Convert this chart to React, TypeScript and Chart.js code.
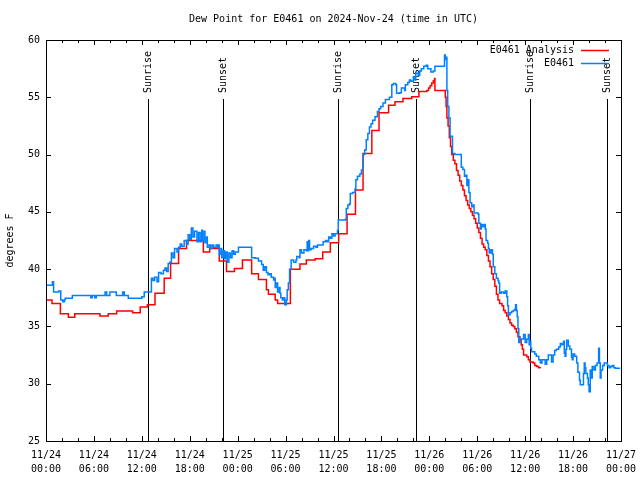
import { useEffect, useRef } from 'react';
import { Chart, registerables } from 'chart.js';

Chart.register(...registerables);

const FONT = '"DejaVu Sans Mono", "Liberation Mono", monospace';

const titleText = 'Dew Point for E0461 on 2024-Nov-24 (time in UTC)';
const yAxisTitle = 'degrees F';
const xTickDates = ['11/24', '11/24', '11/24', '11/24', '11/25', '11/25', '11/25', '11/25', '11/26', '11/26', '11/26', '11/26', '11/27'];
const xTickTimes = ['00:00', '06:00', '12:00', '18:00', '00:00', '06:00', '12:00', '18:00', '00:00', '06:00', '12:00', '18:00', '00:00'];
const yTicks = [25, 30, 35, 40, 45, 50, 55, 60];
const sunriseHours = [12.77, 36.6, 60.6];
const sunsetHours = [22.16, 46.3, 70.2];
const analysisName = 'E0461 Analysis';
const stationName = 'E0461';

// hours since 11/24 00:00 UTC, dew point (F)
const analysisPoints: [number, number][] = [
  [0, 37.3], [0.75, 37.0], [1.8, 36.1], [2.8, 35.8], [3.6, 36.1], [6.75, 35.9], [7.8, 36.1], [8.85, 36.35],
  [10.85, 36.2], [11.8, 36.7], [12.7, 36.9], [13.65, 37.9], [14.8, 39.2], [15.6, 40.5], [16.6, 41.8], [17.6, 42.5],
  [19.7, 41.5], [20.5, 41.8], [21.7, 40.7], [22.6, 39.8], [23.6, 40.05], [24.6, 40.8], [25.75, 39.6], [26.6, 39.1],
  [27.6, 38.2], [27.85, 37.8], [28.7, 37.3], [29.0, 37.0], [30.6, 40.0], [31.8, 40.45], [32.6, 40.8], [33.7, 40.9],
  [34.65, 41.5], [35.6, 42.3], [36.65, 43.1], [37.7, 44.8], [38.75, 46.9], [39.7, 50.1], [40.8, 52.1], [41.7, 53.65],
  [42.9, 54.3], [43.7, 54.6], [44.7, 54.9], [45.8, 55.05], [46.7, 55.5], [47.7, 55.6], [47.9, 55.8], [48.1, 56.0],
  [48.3, 56.25], [48.5, 56.45], [48.65, 56.65], [48.7, 55.6], [50.0, 55.0], [50.1, 54.2], [50.2, 53.2], [50.35, 52.5],
  [50.5, 51.5], [50.65, 50.7], [50.8, 50.0], [51.0, 49.5], [51.2, 49.2], [51.4, 48.6], [51.6, 48.2], [51.8, 47.7],
  [52.0, 47.3], [52.2, 46.9], [52.4, 46.4], [52.6, 46.0], [52.8, 45.6], [53.0, 45.3], [53.2, 45.0], [53.4, 44.7],
  [53.6, 44.4], [53.8, 44.0], [54.0, 43.6], [54.2, 43.2], [54.4, 42.7], [54.6, 42.2], [54.8, 41.9], [55.0, 41.7],
  [55.2, 41.2], [55.4, 40.7], [55.6, 40.2], [55.8, 39.6], [56.0, 39.1], [56.2, 38.5], [56.4, 37.8], [56.6, 37.3],
  [56.8, 37.0], [57.1, 36.8], [57.3, 36.4], [57.5, 36.2], [57.7, 35.9], [57.9, 35.6], [58.1, 35.3], [58.3, 35.1],
  [58.5, 35.0], [58.7, 34.8], [58.9, 34.5], [59.1, 34.1], [59.35, 33.8], [59.5, 33.4], [59.65, 33.0], [59.8, 32.5],
  [60.2, 32.35], [60.4, 32.1], [60.6, 31.9], [61.0, 31.8], [61.2, 31.6], [61.45, 31.5], [61.7, 31.4], [61.9, 31.35],
];

const stationPoints: [number, number][] = [
  [0, 38.6], [0.7, 38.6], [0.8, 38.9], [0.95, 38.0], [1.4, 38.0], [1.6, 38.1], [1.85, 37.3], [2.1, 37.15],
  [2.3, 37.3], [2.4, 37.45], [3.2, 37.45], [3.3, 37.7], [5.5, 37.7], [5.6, 37.5], [5.8, 37.7], [6.1, 37.5],
  [6.3, 37.7], [7.3, 37.7], [7.4, 38.0], [7.6, 37.7], [8.0, 38.0], [8.7, 38.0], [8.8, 37.7], [9.5, 37.7],
  [9.6, 38.0], [9.8, 37.7], [10.3, 37.45], [11.8, 37.45], [12.0, 37.6], [12.3, 38.0], [13.0, 38.0], [13.2, 39.2],
  [13.4, 39.0], [13.6, 39.3], [13.9, 38.9], [14.1, 39.7], [14.4, 39.6], [14.7, 39.9], [14.9, 40.1], [15.1, 39.8],
  [15.3, 40.5], [15.5, 40.6], [15.7, 41.4], [15.9, 41.0], [16.1, 41.8], [16.4, 41.5], [16.6, 41.9], [16.8, 42.2],
  [17.0, 42.0], [17.3, 42.5], [17.6, 42.2], [17.8, 43.0], [18.0, 42.6], [18.2, 43.6], [18.4, 42.8], [18.6, 43.3],
  [18.9, 42.4], [19.1, 43.2], [19.3, 42.4], [19.5, 43.4], [19.6, 42.5], [19.8, 43.3], [19.9, 42.3], [20.1, 42.8],
  [20.2, 41.9], [20.4, 42.1], [20.6, 41.8], [20.8, 42.1], [21.0, 41.9], [21.3, 42.1], [21.5, 41.9], [21.6, 42.1],
  [21.7, 41.3], [21.9, 41.8], [22.0, 41.0], [22.2, 41.6], [22.35, 40.9], [22.5, 41.5], [22.7, 40.6], [22.9, 41.4],
  [23.1, 41.0], [23.3, 41.6], [23.5, 41.3], [23.7, 41.5], [24.1, 41.9], [25.75, 41.0], [26.2, 40.95], [26.6, 40.7],
  [27.0, 40.4], [27.2, 39.9], [27.4, 40.2], [27.6, 39.7], [27.8, 39.5], [28.0, 39.6], [28.2, 39.3], [28.5, 39.05],
  [28.6, 39.2], [28.7, 38.4], [28.8, 38.8], [29.0, 38.0], [29.2, 38.4], [29.3, 37.9], [29.4, 37.5], [29.6, 37.3],
  [29.8, 37.5], [29.9, 36.9], [30.1, 37.3], [30.2, 38.2], [30.35, 38.8], [30.5, 40.0], [30.7, 40.8], [31.0, 40.6],
  [31.3, 40.8], [31.4, 41.1], [31.7, 41.0], [31.8, 41.7], [32.0, 41.4], [32.3, 41.7], [32.6, 41.6], [32.7, 42.4],
  [32.8, 41.6], [32.9, 42.5], [33.0, 41.7], [33.2, 41.8], [33.5, 42.0], [33.8, 41.9], [34.0, 42.1], [34.7, 42.4],
  [35.0, 42.5], [35.2, 42.4], [35.4, 42.8], [35.6, 42.7], [35.8, 43.1], [36.0, 42.9], [36.2, 43.1], [36.5, 43.4],
  [36.6, 44.3], [37.5, 44.35], [37.6, 45.3], [37.8, 45.6], [38.0, 45.7], [38.1, 46.6], [38.4, 46.7], [38.7, 47.0],
  [38.8, 47.8], [39.0, 48.1], [39.3, 48.3], [39.5, 48.65], [39.7, 50.0], [39.9, 50.4], [40.1, 51.3], [40.3, 51.85],
  [40.5, 52.4], [40.7, 52.7], [40.9, 53.0], [41.2, 53.3], [41.5, 53.75], [41.7, 54.0], [41.9, 54.2], [42.2, 54.5],
  [42.5, 54.8], [43.0, 55.0], [43.3, 56.1], [43.5, 56.2], [43.8, 56.1], [43.9, 55.35], [44.3, 55.4], [44.5, 55.8],
  [44.9, 55.6], [45.0, 56.1], [45.3, 56.3], [45.5, 56.5], [45.7, 56.4], [46.0, 56.8], [46.2, 56.5], [46.3, 57.1],
  [46.6, 56.9], [46.8, 57.3], [47.0, 57.5], [47.3, 57.7], [47.6, 57.8], [47.8, 57.5], [48.2, 57.2], [48.5, 57.3],
  [48.7, 57.7], [49.9, 58.7], [50.0, 58.3], [50.1, 58.5], [50.2, 55.6], [50.3, 54.2], [50.45, 53.2], [50.6, 51.6],
  [50.9, 50.1], [51.2, 50.0], [52.0, 48.9], [52.2, 48.7], [52.4, 48.1], [52.6, 48.2], [52.7, 47.3], [52.8, 47.8],
  [52.95, 46.7], [53.1, 45.8], [53.3, 45.45], [53.5, 45.6], [53.6, 44.9], [54.1, 44.8], [54.2, 44.0], [54.4, 43.5],
  [54.5, 43.9], [54.7, 43.7], [54.9, 43.9], [55.0, 43.5], [55.1, 42.5], [55.3, 42.25], [55.4, 41.8], [55.5, 41.4],
  [55.7, 41.7], [55.9, 41.3], [56.0, 40.2], [56.2, 39.6], [56.4, 39.2], [56.6, 39.0], [56.7, 38.8], [56.8, 37.9],
  [57.0, 38.0], [57.3, 37.9], [57.5, 38.1], [57.7, 37.6], [57.8, 36.8], [57.9, 36.0], [58.1, 36.2], [58.3, 36.3],
  [58.5, 36.4], [58.7, 36.5], [58.8, 36.9], [58.9, 36.4], [59.0, 35.85], [59.1, 34.8], [59.2, 33.6], [59.35, 33.9],
  [59.8, 34.3], [60.0, 33.6], [60.2, 33.9], [60.4, 34.3], [60.5, 33.4], [60.6, 33.7], [60.7, 33.1], [60.8, 32.8],
  [61.2, 32.6], [61.4, 32.4], [61.7, 32.1], [61.9, 31.8], [62.1, 32.1], [62.5, 31.7], [62.7, 32.1], [62.9, 32.5],
  [63.3, 31.9], [63.5, 32.5], [63.7, 32.9], [63.9, 33.0], [64.2, 33.2], [64.4, 33.5], [64.6, 33.4], [64.8, 33.7],
  [64.9, 32.65], [65.0, 32.4], [65.1, 33.0], [65.2, 33.8], [65.4, 33.3], [65.6, 33.0], [65.8, 32.3], [65.9, 32.1],
  [66.0, 32.6], [66.2, 32.4], [66.45, 31.8], [66.6, 31.0], [66.8, 30.3], [66.9, 29.9], [67.2, 29.9], [67.3, 30.9],
  [67.4, 31.8], [67.5, 31.4], [67.6, 30.9], [67.8, 30.5], [67.9, 29.9], [68.0, 29.3], [68.15, 31.2], [68.3, 30.5],
  [68.4, 31.5], [68.6, 31.2], [68.8, 31.6], [69.0, 31.8], [69.2, 33.1], [69.3, 31.8], [69.4, 30.5], [69.5, 31.2],
  [69.7, 31.6], [69.9, 31.8], [70.1, 31.8], [70.3, 31.6], [70.5, 31.4], [70.7, 31.5], [70.9, 31.6], [71.1, 31.4],
  [71.3, 31.35], [71.9, 31.35],
];

const RED = '#ff0000';
const BLUE = '#0080ff';

const decorPlugin = {
  id: 'decor',
  beforeDatasetsDraw(chart: any) {
    const { ctx, chartArea: a, scales } = chart;
    const x = scales.x;
    ctx.save();
    ctx.strokeStyle = '#000';
    ctx.fillStyle = '#000';
    ctx.lineWidth = 1;
    ctx.font = `10px ${FONT}`;
    const marks: [number, string][] = [
      ...sunriseHours.map((h): [number, string] => [h, 'Sunrise']),
      ...sunsetHours.map((h): [number, string] => [h, 'Sunset']),
    ];
    for (const [h, label] of marks) {
      const px = Math.round(x.getPixelForValue(h)) + 0.5;
      ctx.beginPath();
      ctx.moveTo(px, a.top + 59);
      ctx.lineTo(px, a.bottom);
      ctx.stroke();
      ctx.save();
      ctx.translate(px, a.top + 53);
      ctx.rotate(-Math.PI / 2);
      ctx.textAlign = 'left';
      ctx.textBaseline = 'middle';
      ctx.fillText(label, 0, 0);
      ctx.restore();
    }
    ctx.restore();
  },
  afterDraw(chart: any) {
    const { ctx, chartArea: a, scales } = chart;
    const x = scales.x;
    const y = scales.y;
    ctx.save();
    ctx.strokeStyle = '#000';
    ctx.lineWidth = 1;
    // frame
    ctx.strokeRect(a.left + 0.5, a.top + 0.5, a.right - a.left, a.bottom - a.top);
    // ticks (inward)
    ctx.beginPath();
    for (let h = x.min; h <= x.max; h += 2) {
      const px = Math.round(x.getPixelForValue(h)) + 0.5;
      const len = h % 6 === 0 ? 5 : 3;
      ctx.moveTo(px, a.bottom);
      ctx.lineTo(px, a.bottom - len);
      ctx.moveTo(px, a.top);
      ctx.lineTo(px, a.top + len);
    }
    for (const v of yTicks) {
      const py = Math.round(y.getPixelForValue(v)) + 0.5;
      ctx.moveTo(a.left, py);
      ctx.lineTo(a.left + 5, py);
      ctx.moveTo(a.right, py);
      ctx.lineTo(a.right - 5, py);
    }
    ctx.stroke();
    // title
    ctx.fillStyle = '#000';
    ctx.font = `10px ${FONT}`;
    ctx.textAlign = 'center';
    ctx.textBaseline = 'middle';
    ctx.fillText(titleText, (a.left + a.right) / 2, 19);
    // legend
    const items: [string, string][] = [[analysisName, RED], [stationName, BLUE]];
    items.forEach(([name, color], i) => {
      const ly = a.top + 10 + i * 13;
      ctx.fillStyle = '#000';
      ctx.textAlign = 'right';
      ctx.fillText(name, a.right - 47, ly);
      ctx.strokeStyle = color;
      ctx.lineWidth = 1.5;
      ctx.beginPath();
      ctx.moveTo(a.right - 40, ly + 0.5);
      ctx.lineTo(a.right - 12, ly + 0.5);
      ctx.stroke();
    });
    ctx.restore();
  },
};

export default function App() {
  const ref = useRef<HTMLCanvasElement | null>(null);
  useEffect(() => {
    if (!ref.current) return;
    const font = { family: FONT, size: 10 };
    const chart = new Chart(ref.current, {
      type: 'line',
      data: {
        datasets: [
          {
            label: stationName,
            data: stationPoints.map(([h, v]) => ({ x: h, y: v })),
            borderColor: BLUE,
            borderWidth: 1.5,
            pointRadius: 0,
            stepped: true,
            fill: false,
            order: 0,
          },
          {
            label: analysisName,
            data: analysisPoints.map(([h, v]) => ({ x: h, y: v })),
            borderColor: RED,
            borderWidth: 1.5,
            pointRadius: 0,
            stepped: true,
            fill: false,
            order: 1,
          },
        ],
      },
      options: {
        responsive: false,
        animation: false,
        layout: { padding: { top: 40, right: 19, left: 0, bottom: 0 } },
        plugins: {
          legend: { display: false },
          tooltip: { enabled: false },
          title: { display: false },
        },
        scales: {
          x: {
            type: 'linear',
            min: 0,
            max: 72,
            ticks: {
              stepSize: 6,
              autoSkip: false,
              maxRotation: 0,
              minRotation: 0,
              padding: 7,
              color: '#000',
              font: { ...font, lineHeight: 1.4 },
              callback: (v: any) => {
                const i = Math.round(Number(v) / 6);
                return [xTickDates[i], xTickTimes[i]];
              },
            },
            grid: { display: false, drawTicks: false },
            border: { display: false },
            afterFit: (s: any) => {
              s.height = 39;
              s.paddingLeft = 0;
              s.paddingRight = 0;
            },
          },
          y: {
            type: 'linear',
            min: 25,
            max: 60,
            ticks: { stepSize: 5, padding: 6, color: '#000', font },
            grid: { display: false, drawTicks: false },
            border: { display: false },
            title: { display: true, text: yAxisTitle, color: '#000', font, padding: { top: 4, bottom: 4 } },
            afterFit: (s: any) => {
              s.width = 46;
              s.paddingTop = 0;
              s.paddingBottom = 0;
            },
          },
        },
      },
      plugins: [decorPlugin],
    } as any);
    return () => chart.destroy();
  }, []);
  return (
    <div style={{ position: 'absolute', left: 0, top: 0, width: 640, height: 480, background: '#fff' }}>
      <canvas ref={ref} width={640} height={480} style={{ width: 640, height: 480, display: 'block' }} />
    </div>
  );
}
